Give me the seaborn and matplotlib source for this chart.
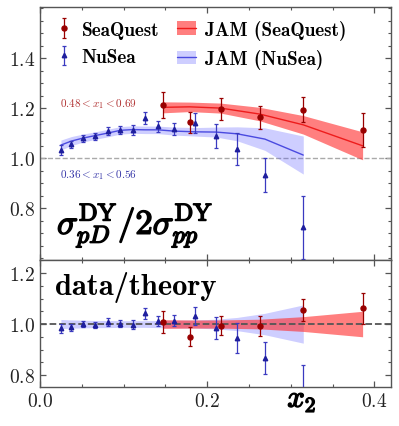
import numpy as np
import matplotlib
matplotlib.use('Agg')
import matplotlib.pyplot as plt
import matplotlib.patheffects as pe
from matplotlib.patches import Patch
from matplotlib.lines import Line2D
from matplotlib.ticker import MultipleLocator
import seaborn as sns

# SeaQuest data (x2, ratio, error) and ratio to theory
sq_x = [0.147, 0.179, 0.216, 0.263, 0.315, 0.386]
sq_y = [1.212, 1.143, 1.196, 1.163, 1.193, 1.112]
sq_err = [0.052, 0.042, 0.043, 0.045, 0.050, 0.067]
sq_ratio = [1.007, 0.950, 0.994, 0.992, 1.055, 1.062]
sq_ratio_err = [0.044, 0.038, 0.036, 0.039, 0.043, 0.061]
# JAM for SeaQuest kinematics
jam_sq = [1.203, 1.205, 1.200, 1.176, 1.133, 1.049]
jam_sq_hw = [0.022, 0.019, 0.020, 0.027, 0.037, 0.056]
jam_sq_ratio_hw = [0.017, 0.016, 0.016, 0.019, 0.029, 0.050]

# NuSea data
ns_x = [0.025, 0.0375, 0.0515, 0.066, 0.081, 0.096, 0.111, 0.126, 0.141,
        0.160, 0.186, 0.211, 0.236, 0.269, 0.315]
ns_y = [1.033, 1.055, 1.079, 1.087, 1.109, 1.113, 1.113, 1.160, 1.127,
        1.116, 1.140, 1.089, 1.036, 0.932, 0.723]
ns_err = [0.020, 0.015, 0.013, 0.013, 0.016, 0.016, 0.020, 0.024, 0.022,
          0.024, 0.041, 0.047, 0.065, 0.069, 0.125]
ns_ratio = [0.983, 0.988, 0.999, 0.995, 1.009, 1.001, 0.997, 1.042, 1.013,
            1.013, 1.030, 0.984, 0.944, 0.867, 0.715]
ns_ratio_err = [0.019, 0.014, 0.012, 0.012, 0.015, 0.014, 0.018, 0.022, 0.020,
                0.022, 0.035, 0.043, 0.059, 0.064, 0.123]
# JAM for NuSea kinematics
jam_ns = [1.052, 1.068, 1.080, 1.090, 1.100, 1.111, 1.114, 1.113, 1.113,
          1.108, 1.105, 1.104, 1.097, 1.076, 1.012]
jam_ns_hw = [0.020, 0.018, 0.016, 0.015, 0.015, 0.015, 0.015, 0.015, 0.015,
             0.016, 0.017, 0.020, 0.028, 0.045, 0.076]
jam_ns_ratio_hw = [0.018, 0.016, 0.015, 0.014, 0.014, 0.013, 0.013, 0.013, 0.014,
                   0.015, 0.016, 0.019, 0.026, 0.042, 0.075]

legend_labels = ['SeaQuest', 'NuSea', 'JAM (SeaQuest)', 'JAM (NuSea)']

sq_col = '#990000'
ns_col = '#1f1f9e'
red_band = '#ff2a2a'
blue_band = '#5050ff'

sns.set_theme(style='ticks')
plt.rcParams['font.family'] = ['cmr10', 'DejaVu Serif']
plt.rcParams['mathtext.fontset'] = 'cm'
plt.rcParams['axes.formatter.use_mathtext'] = True
plt.rcParams['axes.edgecolor'] = '#555555'
plt.rcParams['axes.linewidth'] = 1.0
plt.rcParams['text.color'] = 'black'

fig = plt.figure(figsize=(3.99, 4.27), dpi=100)
gs = fig.add_gridspec(2, 1, height_ratios=[253, 127], hspace=0,
                      left=0.1003, right=0.98, top=0.981, bottom=0.0913)
ax = fig.add_subplot(gs[0])
ax2 = fig.add_subplot(gs[1], sharex=ax)

# ---- top panel
ax.axhline(1.0, color='#aaaaaa', ls='--', lw=1.0, zorder=1)
ax.fill_between(ns_x, np.array(jam_ns) - jam_ns_hw, np.array(jam_ns) + jam_ns_hw,
                color=blue_band, alpha=0.28, lw=0, zorder=2)
sns.lineplot(x=ns_x, y=jam_ns, ax=ax, color='#4a4ae0', lw=1.0, zorder=3)
ax.fill_between(sq_x, np.array(jam_sq) - jam_sq_hw, np.array(jam_sq) + jam_sq_hw,
                color=red_band, alpha=0.6, lw=0, zorder=2)
sns.lineplot(x=sq_x, y=jam_sq, ax=ax, color='#ee1c1c', lw=1.0, zorder=3)

ns_eb = ax.errorbar(ns_x, ns_y, yerr=ns_err, fmt='^', color=ns_col, ms=3.2,
                    ecolor='#3a3ac0', elinewidth=0.9, capsize=1.6, capthick=0.9, zorder=5)
sq_eb = ax.errorbar(sq_x, sq_y, yerr=sq_err, fmt='o', color=sq_col, ms=3.6,
                    ecolor=sq_col, elinewidth=0.9, capsize=1.6, capthick=0.9, zorder=6)

ax.text(0.024, 1.22, r'$0.48 < x_1 < 0.69$', color='#b03030', fontsize=8, va='center')
ax.text(0.024, 0.936, r'$0.36 < x_1 < 0.56$', color='#3535a8', fontsize=8, va='center')
ax.text(0.0204, 0.696, r'$\sigma^{\rm DY}_{pD}/2\sigma^{\rm DY}_{pp}$', fontsize=25,
        va='baseline', ha='left',
        path_effects=[pe.withStroke(linewidth=1.1, foreground='black')])

handles = [sq_eb, ns_eb,
           (Patch(color=red_band, alpha=0.6, lw=0), Line2D([], [], color='#ee1c1c', lw=1.0)),
           (Patch(color=blue_band, alpha=0.28, lw=0), Line2D([], [], color='#4a4ae0', lw=1.0))]
ax.legend(handles, legend_labels, loc='upper left', bbox_to_anchor=(0.04, 0.95), ncol=2,
          frameon=False, prop={'family': 'cmb10', 'size': 13.8}, borderpad=0,
          borderaxespad=0, handlelength=1.0, handletextpad=0.45, columnspacing=0.9,
          labelspacing=0.48)

ax.set_ylim(0.592, 1.604)
ax.set_yticks([0.8, 1.0, 1.2, 1.4])
ax.yaxis.set_minor_locator(MultipleLocator(0.05))

# ---- bottom panel
ax2.fill_between(ns_x, 1 - np.array(jam_ns_ratio_hw), 1 + np.array(jam_ns_ratio_hw),
                 color=blue_band, alpha=0.28, lw=0, zorder=2)
ax2.fill_between(sq_x, 1 - np.array(jam_sq_ratio_hw), 1 + np.array(jam_sq_ratio_hw),
                 color=red_band, alpha=0.6, lw=0, zorder=2)
ax2.axhline(1.0, color='#555555', ls='--', lw=1.3, zorder=3)
ax2.errorbar(ns_x, ns_ratio, yerr=ns_ratio_err, fmt='^', color=ns_col, ms=3.2,
             ecolor='#3a3ac0', elinewidth=0.9, capsize=1.6, capthick=0.9, zorder=5)
ax2.errorbar(sq_x, sq_ratio, yerr=sq_ratio_err, fmt='o', color=sq_col, ms=3.6,
             ecolor=sq_col, elinewidth=0.9, capsize=1.6, capthick=0.9, zorder=6)
ax2.text(0.018, 1.118, 'data/theory', family='cmb10', fontsize=22,
         va='baseline', ha='left')
ax2.text(0.746, -0.157, r'$x_2$', fontsize=22, transform=ax2.transAxes,
         ha='center', va='baseline',
         path_effects=[pe.withStroke(linewidth=1.0, foreground='black')])

ax2.set_ylim(0.753, 1.251)
ax2.set_yticks([0.8, 1.0, 1.2])
ax2.yaxis.set_minor_locator(MultipleLocator(0.05))
ax2.set_xlim(0.0, 0.42)
ax2.set_xticks([0.0, 0.2, 0.4])
ax2.xaxis.set_minor_locator(MultipleLocator(0.05))

for a in (ax, ax2):
    a.tick_params(which='both', direction='in', top=True, right=True,
                  color='#555555', labelsize=14, labelcolor='#222222')
    a.tick_params(which='major', length=4.5, width=0.9)
    a.tick_params(which='minor', length=2.5, width=0.8)
    a.set_xlabel('')
    a.set_ylabel('')
ax.tick_params(labelbottom=False)

fig.savefig('out.png', dpi=100)
